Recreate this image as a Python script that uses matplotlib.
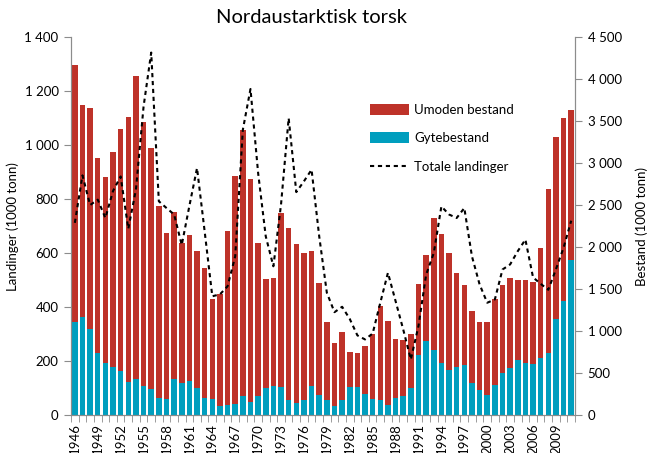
import numpy as np
import matplotlib
matplotlib.use("Agg")
import matplotlib.pyplot as plt
from matplotlib.ticker import FuncFormatter, MultipleLocator

plt.rcParams['font.family'] = ['Lato', 'DejaVu Sans']

years = np.arange(1946, 2012)

# total stock (1000 tonn), right axis
total_stock = [4167, 3687, 3660, 3061, 2835, 3132, 3410, 3549, 4040, 3485,
               3184, 2494, 2169, 2419, 2054, 2141, 1955, 1753, 1376, 1443,
               2193, 2847, 3390, 2807, 2054, 1614, 1626, 2407, 2228, 2038,
               1927, 1955, 1574, 1110, 856, 983, 745, 734, 821, 960,
               1297, 1122, 904, 896, 960, 1562, 1911, 2351, 2157, 1927,
               1693, 1543, 1241, 1102, 1102, 1379, 1550, 1626, 1602, 1602,
               1586, 1990, 2692, 3310, 3536, 3636]

# spawning stock (1000 tonn)
gytebestand = [1110, 1162, 1027, 734, 622, 571, 519, 397, 432, 341,
               305, 202, 194, 432, 385, 408, 317, 202, 194, 103,
               119, 127, 230, 155, 230, 317, 341, 333, 174, 147,
               174, 341, 242, 182, 103, 174, 333, 333, 254, 194,
               174, 119, 206, 230, 317, 710, 884, 769, 622, 531,
               571, 599, 381, 293, 242, 361, 500, 555, 658, 622,
               606, 682, 741, 1146, 1360, 1852]

# total landings (1000 tonn), left axis
landinger = [712, 888, 778, 798, 730, 830, 884, 690, 835, 1143,
             1343, 792, 767, 743, 630, 775, 915, 680, 440, 447,
             477, 588, 1057, 1208, 897, 662, 551, 780, 1100, 826,
             866, 909, 662, 453, 381, 401, 356, 295, 280, 302,
             416, 527, 422, 317, 206, 330, 520, 600, 773, 743,
             730, 767, 588, 484, 416, 428, 539, 558, 607, 650,
             510, 486, 464, 540, 620, 720]

umoden = np.array(total_stock) - np.array(gytebestand)

red = '#BE3229'
cyan = '#009EBE'
grey = '#8c8c8c'

fig = plt.figure(figsize=(6.48, 4.53), dpi=100)
ax = fig.add_axes([0.1096, 0.0839, 0.7778, 0.8340])

ax.bar(years, gytebestand, width=0.72, color=cyan, label='Gytebestand', zorder=2)
ax.bar(years, umoden, width=0.72, bottom=gytebestand, color=red,
       label='Umoden bestand', zorder=2)
ax.set_ylim(0, 4500)
ax.set_xlim(1945.5, 2011.5)

ax2 = ax.twinx()
ax2.plot(years, landinger, color='black', lw=1.5, linestyle=(0, (2.0, 1.8)),
         label='Totale landinger')
ax2.set_ylim(0, 1400)

# bars belong to the right axis, landings to the left one
ax.yaxis.tick_right()
ax.yaxis.set_label_position('right')
ax2.yaxis.tick_left()
ax2.yaxis.set_label_position('left')
ax.yaxis.set_major_locator(MultipleLocator(500))
ax2.yaxis.set_major_locator(MultipleLocator(200))

fmt = FuncFormatter(lambda v, p: f"{int(v):,}".replace(',', ' '))
ax.yaxis.set_major_formatter(fmt)
ax2.yaxis.set_major_formatter(fmt)

for a in (ax, ax2):
    a.spines['top'].set_visible(False)
    for s in ('left', 'right', 'bottom'):
        a.spines[s].set_color(grey)

ax.set_xticks(years[::3])
ax.set_xticklabels([str(y) for y in years[::3]], rotation=90)
ax.set_xticks(np.arange(1945.5, 2012, 1), minor=True)
ax.tick_params(axis='x', which='major', length=0, labelsize=9.5, pad=6)
ax.tick_params(axis='x', which='minor', length=5, color=grey)
ax.tick_params(axis='y', length=5, color=grey, labelsize=9.5, pad=4)
ax2.tick_params(axis='y', length=5, color=grey, labelsize=9.5, pad=4)

ax2.set_ylabel('Landinger (1000 tonn)', fontsize=9.5, labelpad=4)
ax.set_ylabel('Bestand (1000 tonn)', fontsize=9.5, labelpad=10, rotation=90)

fig.text(0.48, 0.962, 'Nordaustarktisk torsk', ha='center', va='center',
         fontsize=14.5)

h1, l1 = ax.get_legend_handles_labels()
h2, l2 = ax2.get_legend_handles_labels()
handles = [h1[1], h1[0], h2[0]]
labels = [l1[1], l1[0], l2[0]]
ax2.legend(handles, labels, loc='upper left', bbox_to_anchor=(0.552, 0.797),
           bbox_transform=fig.transFigure, frameon=False, fontsize=9.5,
           handlelength=3.0, handleheight=0.9, labelspacing=1.25,
           handletextpad=0.4)

plt.savefig('out.png', dpi=100)
